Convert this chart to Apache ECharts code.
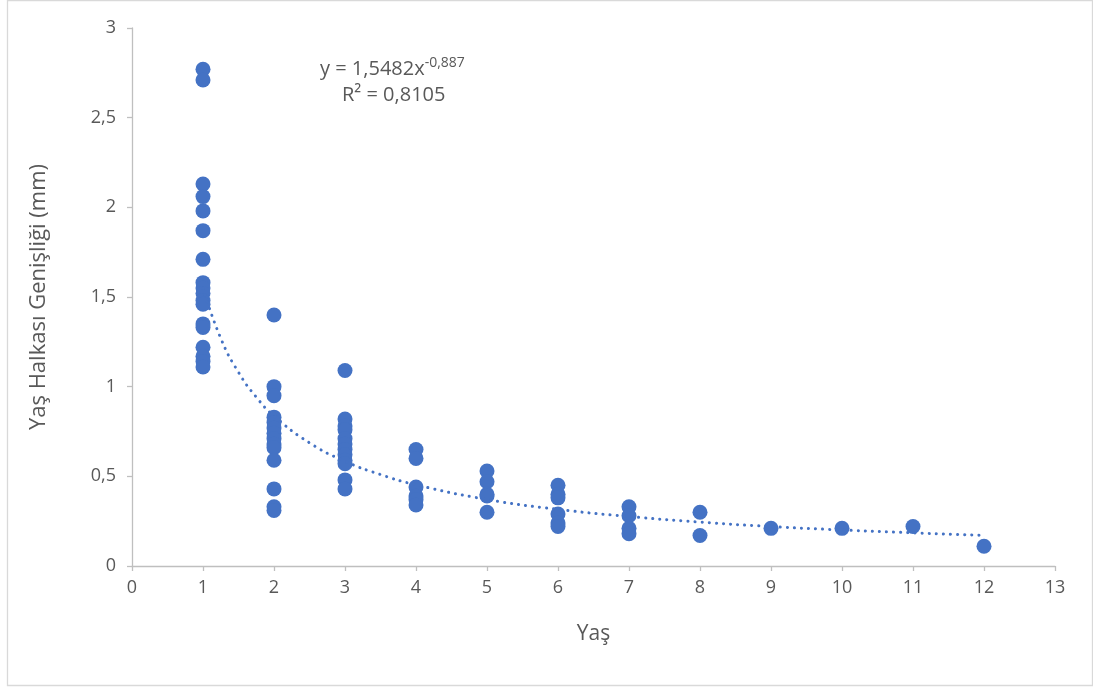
<!DOCTYPE html>
<html>
<head>
<meta charset="utf-8">
<script src="https://cdn.jsdelivr.net/npm/echarts@6/dist/echarts.min.js"></script>
<style>
html,body{margin:0;padding:0;background:#fff;}
#chart{width:1093px;height:687px;}
</style>
</head>
<body>
<div id="chart"></div>
<script>
// Data
const ages = [1, 2, 3, 4, 5, 6, 7, 8, 9, 10, 11, 12];
const age1 = [2.77, 2.71, 2.13, 2.06, 1.98, 1.87, 1.71, 1.58, 1.55, 1.52, 1.48, 1.46, 1.35, 1.33, 1.22, 1.17, 1.14, 1.11];
const age2 = [1.40, 1.00, 0.95, 0.83, 0.80, 0.77, 0.74, 0.71, 0.68, 0.66, 0.59, 0.43, 0.33, 0.31];
const age3 = [1.09, 0.82, 0.78, 0.76, 0.71, 0.68, 0.65, 0.62, 0.59, 0.57, 0.48, 0.43];
const age4 = [0.65, 0.60, 0.44, 0.39, 0.37, 0.34];
const age5 = [0.53, 0.47, 0.40, 0.39, 0.30];
const age6 = [0.45, 0.40, 0.38, 0.29, 0.24, 0.22];
const age7 = [0.33, 0.28, 0.21, 0.18];
const age8 = [0.30, 0.17];
const age9 = [0.21];
const age10 = [0.21];
const age11 = [0.22];
const age12 = [0.11];
const valuesByAge = [age1, age2, age3, age4, age5, age6, age7, age8, age9, age10, age11, age12];

// Power trendline (as drawn in the reference), sampled
const trendX = [1, 1.25, 1.5, 1.75, 2, 2.5, 3, 3.5, 4, 5, 6, 7, 8, 9, 10, 11, 12];
const trendY = [1.548, 1.270, 1.080, 0.942, 0.837, 0.687, 0.584, 0.510, 0.453, 0.371, 0.316, 0.276, 0.245, 0.220, 0.201, 0.185, 0.171];

const xTicks = [0,1,2,3,4,5,6,7,8,9,10,11,12,13];
const yTickLabels = ['0', '0,5', '1', '1,5', '2', '2,5', '3'];

const eqText = 'y = 1,5482x';
const eqExp = '-0,887';
const r2Text = 'R² = 0,8105';
const xTitle = 'Yaş';
const yTitle = 'Yaş Halkası Genişliği (mm)';

const scatterData = [];
ages.forEach((a, i) => valuesByAge[i].forEach(v => scatterData.push([a, v])));
const trendData = trendX.map((x, i) => [x, trendY[i]]);

const FONT = 'Open Sans';
const TXT = '#595959';
const AX = '#bfbfbf';
const BLUE = '#4472C4';

const chart = echarts.init(document.getElementById('chart'), null, {renderer: 'canvas'});
chart.setOption({
  backgroundColor: '#fff',
  animation: false,
  textStyle: {fontFamily: FONT},
  grid: {left: 132, right: 38, top: 28, bottom: 121, containLabel: false},
  xAxis: {
    type: 'value', min: 0, max: 13, interval: 1,
    name: xTitle, nameLocation: 'middle', nameGap: 58,
    nameTextStyle: {color: TXT, fontSize: 21, fontFamily: FONT},
    axisLine: {show: true, lineStyle: {color: AX, width: 1.3}},
    axisTick: {show: true, length: 5, lineStyle: {color: AX, width: 1.3}},
    axisLabel: {color: TXT, fontSize: 18, margin: 13, fontFamily: FONT,
      formatter: v => String(xTicks[Math.round(v)])},
    splitLine: {show: false}
  },
  yAxis: {
    type: 'value', min: 0, max: 3, interval: 0.5,
    name: yTitle, nameLocation: 'middle', nameGap: 82, nameRotate: 90,
    nameTextStyle: {color: TXT, fontSize: 22, fontFamily: FONT},
    axisLine: {show: true, lineStyle: {color: AX, width: 1.3}},
    axisTick: {show: true, length: 5, lineStyle: {color: AX, width: 1.3}},
    axisLabel: {color: TXT, fontSize: 18, margin: 16, fontFamily: FONT,
      formatter: v => yTickLabels[Math.round(v * 2)]},
    splitLine: {show: false}
  },
  series: [
    {
      type: 'line', data: trendData, smooth: true, showSymbol: false, z: 3,
      lineStyle: {color: BLUE, width: 3, type: [0.1, 7], cap: 'round'}
    },
    {
      type: 'scatter', data: scatterData, symbolSize: 15, z: 2,
      itemStyle: {color: BLUE, opacity: 1}
    }
  ],
  graphic: [
    {type: 'rect', left: 5, top: -2, shape: {x: 0, y: 0, width: 1085, height: 685},
      style: {fill: 'none', stroke: '#d9d9d9', lineWidth: 1.3}, silent: true, z: -1},
    {type: 'text', left: 320, top: 56,
      style: {
        text: '{a|' + eqText + '}{s|' + eqExp + '}',
        rich: {
          a: {fontSize: 20, fill: TXT, fontFamily: FONT, verticalAlign: 'bottom'},
          s: {fontSize: 14, fill: TXT, fontFamily: FONT, padding: [0, 0, 9, 0], verticalAlign: 'bottom'}
        }
      }},
    {type: 'text', left: 342, top: 85,
      style: {text: r2Text, fontSize: 20, fill: TXT, fontFamily: FONT}}
  ]
});
</script>
</body>
</html>
